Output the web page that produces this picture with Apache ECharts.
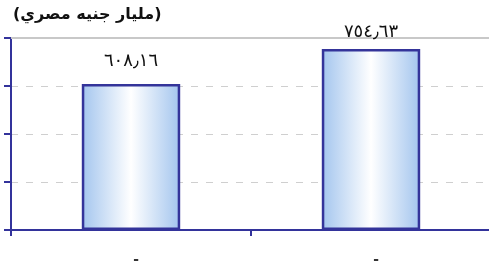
<!DOCTYPE html>
<html>
<head>
<meta charset="utf-8">
<script src="https://cdn.jsdelivr.net/npm/echarts@6/dist/echarts.min.js"></script>
<style>
  html, body { margin: 0; padding: 0; background: #fff; }
  #chart { width: 489px; height: 263px; }
</style>
</head>
<body>
<div id="chart"></div>
<script>
// Two-bar column chart, values in billion EGP.
var categories = ["-", "-"];
var values = [608.16, 754.63];
var valueLabels = ["٦٠٨٫١٦", "٧٥٤٫٦٣"];
var unitTitle = "(مليار جنيه مصري)";

var axisBlue = "#33339b";
var labelGaps = [14, 8];

var chart = echarts.init(document.getElementById("chart"), null, { renderer: "canvas" });

chart.setOption({
  animation: false,
  backgroundColor: "#fff",
  title: {
    text: unitTitle,
    left: 8,
    top: 2,
    textStyle: { fontFamily: "DejaVu Sans", fontSize: 16, fontWeight: "bold", color: "#111" }
  },
  grid: { left: 11, right: -2, top: 38, bottom: 33, outerBoundsMode: "none", containLabel: false },
  xAxis: [
    {
      type: "category",
      data: categories,
      axisLine: { lineStyle: { color: axisBlue, width: 2 } },
      axisTick: { show: true, length: 6, lineStyle: { color: axisBlue, width: 2 } },
      axisLabel: { margin: 21, fontSize: 17, fontWeight: "bold", color: "#333", padding: [0, 0, 0, 10] }
    },
    {
      type: "category",
      position: "top",
      data: categories,
      axisLine: { lineStyle: { color: "#c8c8c8", width: 2 } },
      axisTick: { show: false },
      axisLabel: { show: false }
    }
  ],
  yAxis: {
    type: "value",
    min: 0,
    max: 800,
    interval: 200,
    axisLine: { show: true, lineStyle: { color: axisBlue, width: 2 } },
    axisTick: { show: true, length: 7, lineStyle: { color: axisBlue, width: 2 } },
    axisLabel: { show: false },
    splitLine: { show: true, lineStyle: { color: "#cfcfcf", type: [7, 8], width: 1 } }
  },
  series: [
    {
      type: "bar",
      data: values.map(function (v, i) {
        return { value: v, label: { distance: labelGaps[i] } };
      }),
      barWidth: "41%",
      itemStyle: {
        borderColor: "#34349a",
        borderWidth: 2.5,
        color: new echarts.graphic.LinearGradient(0, 0, 1, 0, [
          { offset: 0, color: "#a3c5ee" },
          { offset: 0.5, color: "#ffffff" },
          { offset: 1, color: "#a3c5ee" }
        ])
      },
      label: {
        show: true,
        position: "top",
        fontFamily: "DejaVu Sans",
        fontSize: 18,
        color: "#111",
        formatter: function (p) { return valueLabels[p.dataIndex]; }
      }
    }
  ]
});
</script>
</body>
</html>
